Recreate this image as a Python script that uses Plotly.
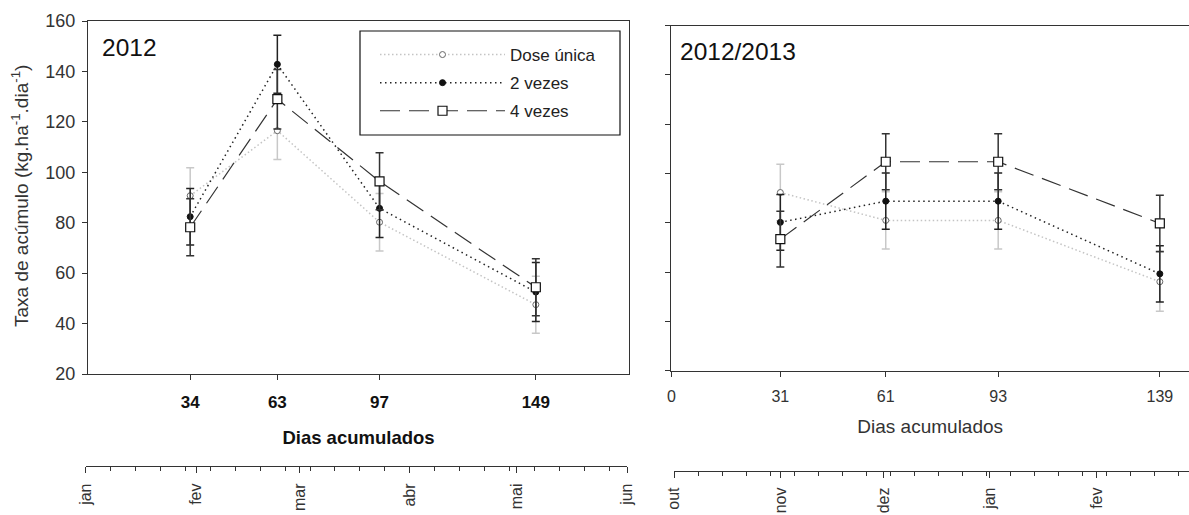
import plotly.graph_objects as go

W, H = 1189, 515

# ---------------- data ----------------
series_names = ["Dose única", "2 vezes", "4 vezes"]

days_2012 = [34, 63, 97, 149]
dose_unica_2012 = [90.7, 116.5, 80.2, 47.5]
dose_unica_2012_err = [11.1, 11.4, 11.4, 11.3]
duas_2012 = [82.4, 142.8, 85.7, 52.5]
duas_2012_err = [11.2, 11.5, 11.6, 11.7]
quatro_2012 = [78.2, 129.0, 96.4, 54.4]
quatro_2012_err = [11.3, 11.8, 11.3, 11.3]

days_1213 = [31, 61, 93, 139]
dose_unica_1213 = [92.3, 81.0, 81.0, 56.1]
dose_unica_1213_err = [11.5, 11.6, 11.6, 12.0]
duas_1213 = [80.2, 88.8, 88.8, 59.3]
duas_1213_err = [11.3, 11.4, 11.4, 11.4]
quatro_1213 = [73.4, 104.8, 104.8, 79.8]
quatro_1213_err = [11.3, 11.4, 11.4, 11.4]

right_day_ticks = [0, 31, 61, 93, 139]

months_2012 = ["jan", "fev", "mar", "abr", "mai", "jun"]
month_dates_2012 = ["2012-01-01", "2012-02-01", "2012-03-01", "2012-04-01", "2012-05-01", "2012-06-01"]
months_1213 = ["out", "nov", "dez", "jan", "fev"]
month_dates_1213 = ["2012-10-01", "2012-11-01", "2012-12-01", "2013-01-01", "2013-02-01"]

# ---------------- styles ----------------
FONT = "Liberation Sans, Arial, sans-serif"
styles = {
    "Dose única": dict(
        line=dict(color="#c4c4c4", width=1.5, dash="1.5px,2.5px"),
        marker=dict(symbol="circle", size=6, color="white", line=dict(color="#666", width=1)),
        err="#c8c8c8"),
    "2 vezes": dict(
        line=dict(color="#222", width=1.5, dash="1.5px,3.5px"),
        marker=dict(symbol="circle", size=6, color="#111", line=dict(color="#111", width=1)),
        err="#222"),
    "4 vezes": dict(
        line=dict(color="#333", width=1.2, dash="20px,9px"),
        marker=dict(symbol="square", size=9, color="white", line=dict(color="#111", width=1.2)),
        err="#333"),
}

fig = go.Figure()

panel_data = [
    ("x", "y", days_2012, [dose_unica_2012, duas_2012, quatro_2012],
     [dose_unica_2012_err, duas_2012_err, quatro_2012_err], True),
    ("x2", "y2", days_1213, [dose_unica_1213, duas_1213, quatro_1213],
     [dose_unica_1213_err, duas_1213_err, quatro_1213_err], False),
]

for xa, ya, xs, ys_list, errs_list, show in panel_data:
    for name, ys, errs in zip(series_names, ys_list, errs_list):
        st = styles[name]
        fig.add_trace(go.Scatter(
            x=xs, y=ys, name=name, xaxis=xa, yaxis=ya,
            mode="lines+markers",
            line=st["line"], marker=st["marker"],
            error_y=dict(type="data", array=errs, visible=True,
                         color=st["err"], thickness=1.5, width=4),
            showlegend=show, legendgroup=name, hoverinfo="skip"))

# month axes carriers (invisible)
fig.add_trace(go.Scatter(x=month_dates_2012, y=[0] * len(month_dates_2012),
                         xaxis="x3", yaxis="y3", mode="markers",
                         marker=dict(opacity=0), showlegend=False, hoverinfo="skip"))
fig.add_trace(go.Scatter(x=month_dates_1213, y=[0] * len(month_dates_1213),
                         xaxis="x4", yaxis="y4", mode="markers",
                         marker=dict(opacity=0), showlegend=False, hoverinfo="skip"))

axis_common = dict(showline=True, linecolor="#333", linewidth=1.2, ticks="outside",
                   ticklen=5, tickcolor="#333", showgrid=False, zeroline=False,
                   automargin=False)

WEEK = 7 * 86400000

month_axis_common = dict(
    type="date", tickangle=-90,
    tickfont=dict(size=16, color="#333"),
    showline=True, linecolor="#333", linewidth=1.2, ticks="outside",
    ticklen=6, tickcolor="#333", showgrid=False, zeroline=False,
    automargin=False)

fig.update_layout(
    template="none",
    width=W, height=H,
    margin=dict(l=0, r=0, t=0, b=0, autoexpand=False),
    paper_bgcolor="white", plot_bgcolor="white",
    font=dict(family=FONT, color="#222"),
    hovermode=False,
    xaxis=dict(domain=[88 / W, 629 / W], range=[0, 180], tickvals=days_2012,
               mirror=True, anchor="y", ticklabelstandoff=7,
               tickfont=dict(size=17, weight="bold", color="#111"),
               title=dict(text="Dias acumulados", font=dict(size=18.5, weight="bold", color="#111"),
                          standoff=20),
               **axis_common),
    yaxis=dict(domain=[1 - 374 / H, 1 - 21 / H], range=[20, 160], dtick=20,
               mirror=True, anchor="x", ticklabelstandoff=3,
               tickfont=dict(size=18, color="#333"),
               **axis_common),
    xaxis2=dict(domain=[671.4 / W, 1.0], range=[0, 147.3], tickvals=right_day_ticks,
                mirror=True, anchor="y2", ticklabelstandoff=6,
                tickfont=dict(size=16, color="#333"),
                title=dict(text="Dias acumulados", font=dict(size=19, color="#333"), standoff=15),
                **axis_common),
    yaxis2=dict(domain=[1 - 370.7 / H, 1 - 25.7 / H], range=[20, 160], dtick=20,
                mirror=False, anchor="x2", showticklabels=False,
                **axis_common),
    xaxis3=dict(domain=[85.7 / W, 627 / W], anchor="y3",
                range=[month_dates_2012[0], month_dates_2012[-1]],
                tickvals=month_dates_2012, ticktext=months_2012, ticklabelstandoff=4,
                minor=dict(dtick=WEEK, tick0=month_dates_2012[0], ticks="outside",
                           ticklen=4, tickcolor="#333"),
                **month_axis_common),
    yaxis3=dict(domain=[1 - 466 / H, 1 - 460 / H], range=[0, 1], visible=False, anchor="x3"),
    xaxis4=dict(domain=[674 / W, 1.0], anchor="y4",
                range=["2012-10-01", "2013-02-28"],
                tickvals=month_dates_1213, ticktext=months_1213, ticklabelstandoff=3,
                minor=dict(dtick=WEEK, tick0=month_dates_1213[0], ticks="outside",
                           ticklen=4, tickcolor="#333"),
                **month_axis_common),
    yaxis4=dict(domain=[1 - 471 / H, 1 - 465 / H], range=[0, 1], visible=False, anchor="x4"),
    legend=dict(x=375 / W, y=1 - 37 / H, xanchor="left", yanchor="top",
                bgcolor="rgba(0,0,0,0)", borderwidth=0, itemwidth=125,
                font=dict(size=17, color="#222"), traceorder="grouped",
                tracegroupgap=3),
    shapes=[dict(type="rect", xref="paper", yref="paper",
                 x0=360 / W, x1=620 / W, y0=1 - 135 / H, y1=1 - 31 / H,
                 line=dict(color="#111", width=1.2), fillcolor="rgba(0,0,0,0)")],
    annotations=[
        dict(text="2012", xref="paper", yref="paper", x=100 / W, y=1 - 47 / H,
             xanchor="left", yanchor="middle", showarrow=False,
             font=dict(size=24.5, color="#111")),
        dict(text="2012/2013", xref="paper", yref="paper", x=678 / W, y=1 - 51 / H,
             xanchor="left", yanchor="middle", showarrow=False,
             font=dict(size=24.5, color="#111")),
        dict(text="Taxa de acúmulo (kg.ha<sup>-1</sup>.dia<sup>-1</sup>)",
             xref="paper", yref="paper", x=20 / W, y=1 - 196 / H,
             xanchor="center", yanchor="middle", textangle=-90, showarrow=False,
             font=dict(size=19, color="#333")),
    ],
)

fig.write_html("out.html")
